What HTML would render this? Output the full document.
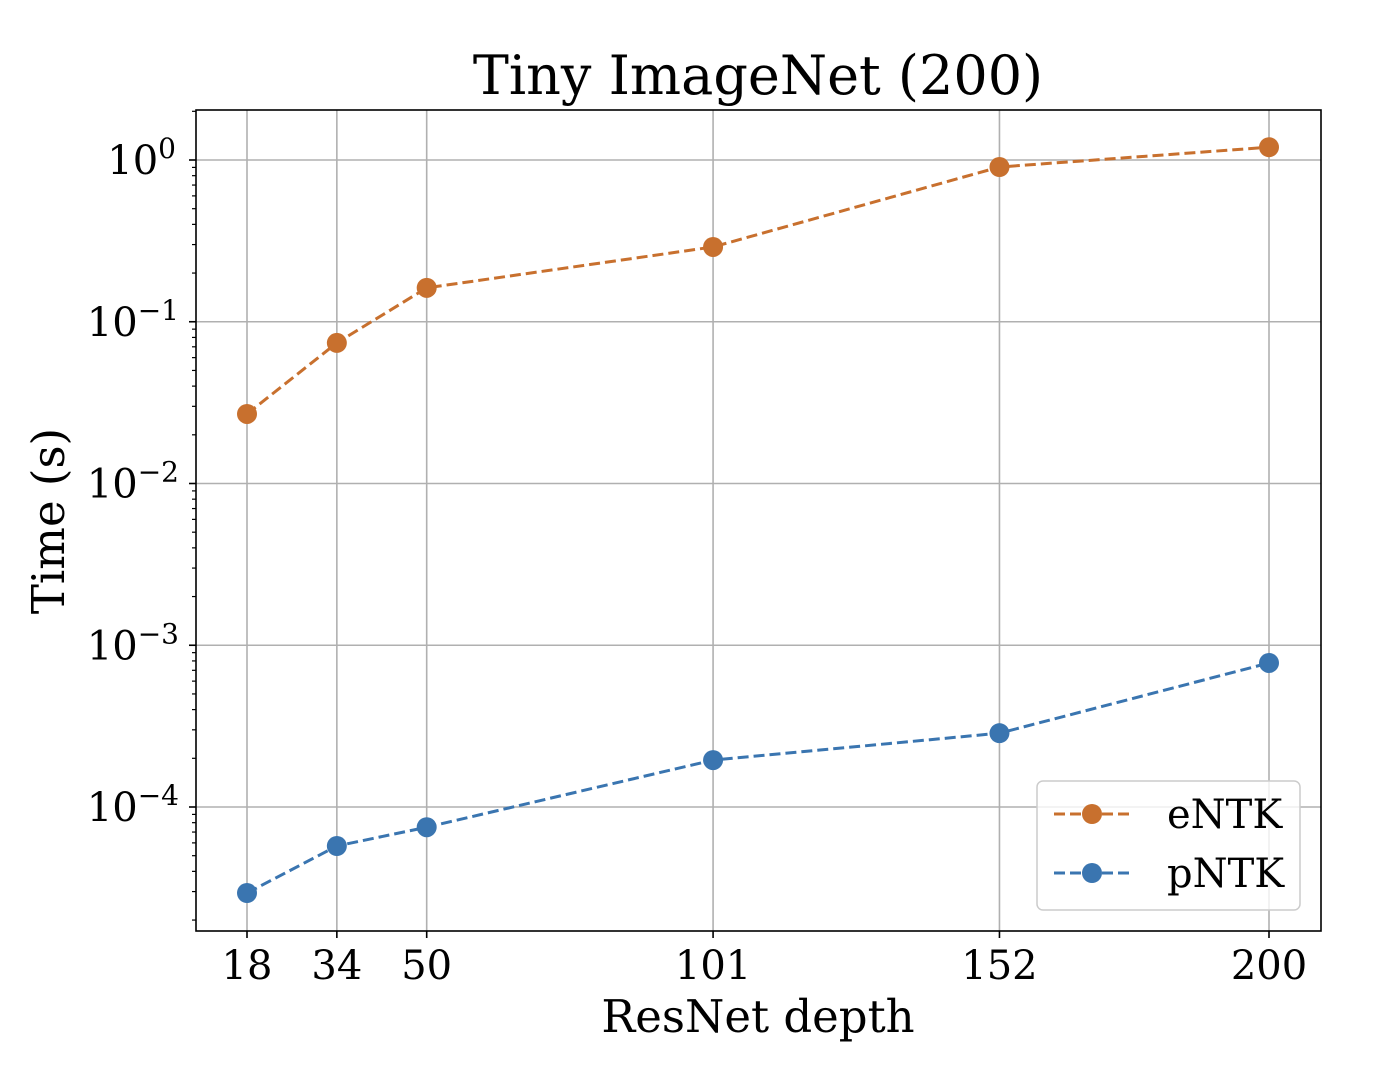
<!DOCTYPE html>
<html><head><meta charset="utf-8"><style>html,body{margin:0;padding:0;background:#fff}svg{display:block}</style></head>
<body>
<svg id="chart" width="1380" height="1080" xmlns="http://www.w3.org/2000/svg" font-family="'DejaVu Serif','Liberation Serif',serif">
<rect width="1380" height="1080" fill="#fff"/>
<g id="grid"></g>
<g id="series"></g>
<g id="axes"></g>
<text x="758" y="94" font-size="54" text-anchor="middle">Tiny ImageNet (200)</text>
<text x="758" y="1032" font-size="45" text-anchor="middle">ResNet depth</text>
<text transform="translate(64,521) rotate(-90)" font-size="45" text-anchor="middle">Time (s)</text>
<g>
<rect x="1037" y="781" width="263" height="129" rx="6" fill="#fff" fill-opacity="0.8" stroke="#ccc" stroke-width="1.5"/>
<g>
<line x1="1054" y1="814" x2="1130" y2="814" stroke="#c8702e" stroke-width="3" stroke-dasharray="11,5"/>
<circle cx="1092" cy="814" r="10" fill="#c8702e"/>
<text x="1167" y="828" font-size="40">eNTK</text></g>
<g>
<line x1="1054" y1="873" x2="1130" y2="873" stroke="#3a75b0" stroke-width="3" stroke-dasharray="11,5"/>
<circle cx="1092" cy="873" r="10" fill="#3a75b0"/>
<text x="1167" y="887" font-size="40">pNTK</text></g>
</g>
</svg>
<script>
const depths=[18,34,50,101,152,200];
const entk=[0.0269,0.074,0.162,0.29,0.905,1.2];
const pntk=[2.94e-5,5.74e-5,7.5e-5,1.95e-4,2.86e-4,7.77e-4];
const yTickExps=[0,-1,-2,-3,-4];
const xTickLabels=["18","34","50","101","152","200"];

const L=196,R=1321,T=110,B=931;
const NS="http://www.w3.org/2000/svg";
function xs(v){return 247+(v-18)*(1269-247)/182;}
function ys(v){return 160-Math.log10(v)*161.75;}
function mk(tag,attrs,parent){const e=document.createElementNS(NS,tag);for(const k in attrs)e.setAttribute(k,attrs[k]);parent.appendChild(e);return e;}
const grid=document.getElementById('grid'),axes=document.getElementById('axes'),ser=document.getElementById('series');
depths.forEach((d,i)=>{
  const x=xs(d);
  const g=mk('line',{x1:x,y1:T,x2:x,y2:B,stroke:'#b0b0b0','stroke-width':1.6},grid);
  
  
  mk('line',{x1:x,y1:B,x2:x,y2:B+7,stroke:'#000','stroke-width':1.6},axes);
  const t=mk('text',{x:x,y:B+48,'font-size':40,'text-anchor':'middle'},axes);
  t.textContent=xTickLabels[i];
  
  
});
yTickExps.forEach(e=>{
  const y=ys(Math.pow(10,e));
  const g=mk('line',{x1:L,y1:y,x2:R,y2:y,stroke:'#b0b0b0','stroke-width':1.6},grid);
  
  
  mk('line',{x1:L-7,y1:y,x2:L,y2:y,stroke:'#000','stroke-width':1.6},axes);
  const t=mk('text',{x:e===0?176:179,y:y+14,'font-size':40,'text-anchor':'end'},axes);
  
  
  const base=document.createElementNS(NS,'tspan');base.textContent='10';t.appendChild(base);
  const sup=document.createElementNS(NS,'tspan');sup.setAttribute('dy','-16');sup.setAttribute('font-size','28');
  sup.textContent=e===0?'0':'\u2212'+(-e);t.appendChild(sup);
});
for(let e=-5;e<=0;e++){for(let m=2;m<=9;m++){const y=ys(m*Math.pow(10,e));if(y>T&&y<B)mk('line',{x1:L-4,y1:y,x2:L,y2:y,stroke:'#000','stroke-width':1.2},axes);}}
const fr=mk('rect',{x:L,y:T,width:R-L,height:B-T,fill:'none',stroke:'#000','stroke-width':1.6},axes);


[[entk,'#c8702e','entk'],[pntk,'#3a75b0','pntk']].forEach(([vals,c,n])=>{
  const pts=vals.map((v,i)=>xs(depths[i])+','+ys(v)).join(' ');
  const pl=mk('polyline',{points:pts,fill:'none',stroke:c,'stroke-width':3,'stroke-dasharray':'11,5'},ser);
  
  
  vals.forEach((v,i)=>{
    const ci=mk('circle',{cx:xs(depths[i]),cy:ys(v),r:10,fill:c},ser);
    
    
  });
});
</script>
</body></html>
